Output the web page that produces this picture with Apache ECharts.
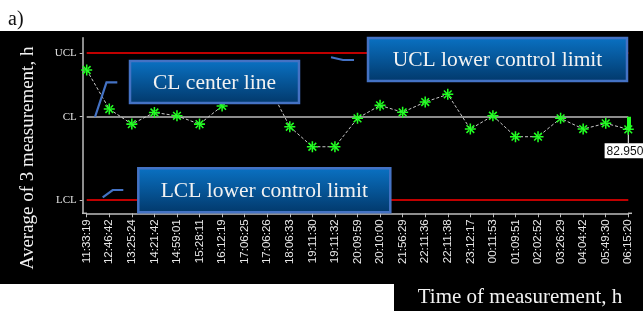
<!DOCTYPE html>
<html>
<head>
<meta charset="utf-8">
<script src="https://cdn.jsdelivr.net/npm/echarts@6/dist/echarts.min.js"></script>
<style>
html,body{margin:0;padding:0;background:#fff;}
#c{width:643px;height:311px;}
</style>
</head>
<body>
<div id="c"></div>
<script>
// ---- data ----
var categories = ['11:33:19','12:46:42','13:25:24','14:21:42','14:59:01','15:28:11','16:12:19','17:06:25','17:06:26','18:06:33','19:11:30','19:11:32','20:09:59','20:10:00','21:56:29','22:11:36','22:11:38','23:12:17','00:11:53','01:09:51','02:02:52','03:26:29','04:04:42','05:49:30','06:15:20'];
var values = [92.6, 86.25, 83.8, 85.7, 85.15, 83.8, 86.75, 89.8, 90.45, 83.37, 80.12, 80.12, 84.74, 86.85, 85.72, 87.39, 88.64, 83.0, 85.16, 81.75, 81.75, 84.74, 83.0, 83.93, 82.9507];
var UCL = 95.4, CL = 85, LCL = 71.45;
var yMin = 69.3, yMax = 97.85;
var limitNames = ['UCL', 'CL', 'LCL'];
var limitValues = [UCL, CL, LCL];
var lastLabel = '82.9507';

var star = 'path://M-0.7,-5L0.7,-5L0.7,5L-0.7,5Z M-5,-0.7L5,-0.7L5,0.7L-5,0.7Z M-3,-4L4,3L3,4L-4,-3Z M-3,4L4,-3L3,-4L-4,3Z M-1.3,-1.3L1.3,-1.3L1.3,1.3L-1.3,1.3Z';

var serif = 'Liberation Serif';
var sans = 'Liberation Sans';
var boxFill = {type:'linear', x:0, y:0, x2:0, y2:1, colorStops:[{offset:0, color:'#0a72c4'},{offset:1, color:'#02386a'}]};
function box(x, y, w, h, txt){
  return [
    {type:'rect', z:100, zlevel:1, shape:{x:x, y:y, width:w, height:h}, style:{fill:boxFill, stroke:'#4472c4', lineWidth:2.5}},
    {type:'text', z:101, zlevel:1, style:{text:txt, x:x + w/2, y:y + h/2 + 1, align:'center', verticalAlign:'middle', fill:'#f2f2f2', fontFamily: serif, fontSize: 21.5}}
  ];
}
function conn(pts){
  return {type:'polyline', z:100, zlevel:1, shape:{points:pts}, style:{stroke:'#4472c4', lineWidth:2.2, fill:null}};
}

var chart = echarts.init(document.getElementById('c'));
var last = values.length - 1;
chart.setOption({
  backgroundColor: 'transparent',
  animation: false,
  grid: {left: 86.7, right: 14.7, top: 37.7, bottom: 97.7},
  xAxis: {
    type: 'category', data: categories, boundaryGap: false,
    axisLine: {lineStyle: {color: '#bdbdbd', width: 1.5}},
    axisTick: {show: true, interval: 0, length: 4, lineStyle: {color: '#bdbdbd'}},
    axisLabel: {interval: 0, rotate: 90, color: '#e8e8e8', fontFamily: sans, fontSize: 11.5, margin: 6},
    splitLine: {show: false}
  },
  yAxis: {
    type: 'value', min: yMin, max: yMax, offset: 4,
    axisLine: {show: true, lineStyle: {color: '#bdbdbd', width: 1.5}},
    axisTick: {show: true, length: 3, customValues: limitValues, lineStyle: {color: '#bdbdbd'}},
    axisLabel: {customValues: limitValues, color: '#e0e0e0', fontFamily: serif, fontSize: 11, margin: 6,
      formatter: function(v){ var i = limitValues.indexOf(v); return i >= 0 ? limitNames[i] : ''; }},
    splitLine: {show: false}
  },
  series: [{
    type: 'line', data: values, z: 5,
    symbol: star, symbolSize: 11,
    itemStyle: {color: '#22ff22'},
    lineStyle: {color: '#c8c8c8', width: 1, type: [3, 2]},
    markLine: {
      silent: true, symbol: 'none', label: {show: false},
      data: [
        {yAxis: UCL, lineStyle: {color: '#c00000', width: 2, type: 'solid'}},
        {yAxis: CL, lineStyle: {color: '#8c8c8c', width: 2, type: 'solid'}},
        {yAxis: LCL, lineStyle: {color: '#c00000', width: 2, type: 'solid'}},
        [{coord: [categories[last], CL], lineStyle: {color: '#22ff22', width: 4, type: 'solid'}},
         {coord: [categories[last], values[last]]}]
      ]
    },
    markPoint: {
      silent: true,
      data: [{coord: [categories[last], values[last]], symbol: 'rect', symbolSize: [1, 14], symbolOffset: [0, 7],
        itemStyle: {color: '#ffffff'},
        label: {show: true, position: 'bottom', distance: 0, formatter: lastLabel, color: '#111', backgroundColor: '#ffffff',
          fontFamily: sans, fontSize: 12, padding: [2, 2, 1, 2]}}]
    }
  }],
  graphic: [
    {type:'rect', z:-10, shape:{x:0, y:31, width:643, height:253}, style:{fill:'#000'}},
    {type:'rect', z:-10, shape:{x:394, y:283, width:249, height:28}, style:{fill:'#000'}},
    {type:'line', z:1, shape:{x1:82, y1:213.3, x2:87, y2:213.3}, style:{stroke:'#bdbdbd', lineWidth:1.5}},
    {type:'line', z:1, shape:{x1:628, y1:213.3, x2:632, y2:213.3}, style:{stroke:'#bdbdbd', lineWidth:1.5}},
    {type:'text', z:100, style:{text:'a)', x:8, y:20, verticalAlign:'middle', fill:'#111', fontFamily: serif, fontSize: 20}},
    {type:'text', z:100, rotation: Math.PI/2, x:28, y:158, style:{text:'Average of 3 measurement, h', align:'center', verticalAlign:'middle', fill:'#f2f2f2', fontFamily: serif, fontSize: 19}},
    {type:'text', z:100, style:{text:'Time of measurement, h', x:520, y:297, align:'center', verticalAlign:'middle', fill:'#f2f2f2', fontFamily: serif, fontSize: 21}}
  ].concat(
    box(130, 61, 169, 42, 'CL center line'),
    box(368, 38, 259, 43, 'UCL lower control limit'),
    box(138.3, 168.3, 252, 44, 'LCL lower control limit'),
    [conn([[95,117],[106.5,82.3],[117.3,82.3]]),
     conn([[331,57.3],[343,60],[354,60]]),
     conn([[102.7,197.3],[112.7,190],[123.3,190]])]
  )
});
</script>
</body>
</html>
